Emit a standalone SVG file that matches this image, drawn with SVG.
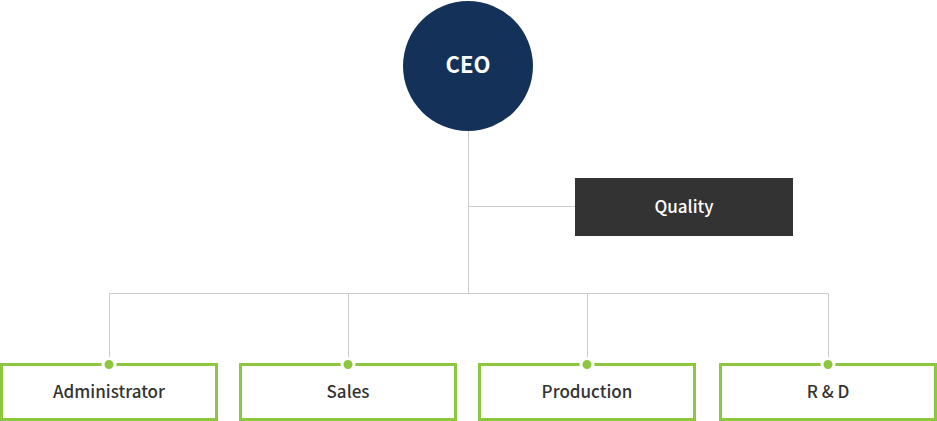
<svg xmlns="http://www.w3.org/2000/svg" width="937" height="421" viewBox="0 0 937 421">
  <style>
    .conn { stroke: #cccccc; stroke-width: 1; fill: none; }
    .dept rect { fill: #ffffff; stroke: #8dc63f; stroke-width: 3; }
    .dot { fill: #8dc63f; stroke: #ffffff; stroke-width: 3; }
    text { font-family: "Noto Sans CJK KR", "Noto Sans", "Liberation Sans", sans-serif; text-anchor: middle; }
    .dept text { fill: #333333; font-size: 17px; font-weight: 500; }
  </style>
  <rect width="937" height="421" fill="#ffffff"/>
  <g id="connectors">
    <path class="conn" d="M468.5 130 V293.5 M468.5 206.5 H575 M109.5 357 V293.5 H828.5 V357 M348.5 293.5 V357 M587.5 293.5 V357"/>
  </g>
  <g id="ceo">
    <circle cx="468" cy="66" r="65" fill="#143259"/>
    <text x="468" y="73" fill="#ffffff" font-size="22" font-weight="700">CEO</text>
  </g>
  <g id="quality">
    <rect x="575" y="178" width="218" height="58" fill="#333333"/>
    <text x="684" y="212.5" fill="#ffffff" font-size="17" font-weight="500">Quality</text>
  </g>
  <g id="administrator" class="dept">
    <rect x="1.5" y="364.5" width="215" height="55"/>
    <circle class="dot" cx="109" cy="364.5" r="6"/>
    <text x="109" y="398">Administrator</text>
  </g>
  <g id="sales" class="dept">
    <rect x="240.5" y="364.5" width="215" height="55"/>
    <circle class="dot" cx="348" cy="364.5" r="6"/>
    <text x="348" y="398">Sales</text>
  </g>
  <g id="production" class="dept">
    <rect x="479.5" y="364.5" width="215" height="55"/>
    <circle class="dot" cx="587" cy="364.5" r="6"/>
    <text x="587" y="398">Production</text>
  </g>
  <g id="rnd" class="dept">
    <rect x="720.5" y="364.5" width="215" height="55"/>
    <circle class="dot" cx="828" cy="364.5" r="6"/>
    <text x="828" y="398">R &amp; D</text>
  </g>
</svg>
